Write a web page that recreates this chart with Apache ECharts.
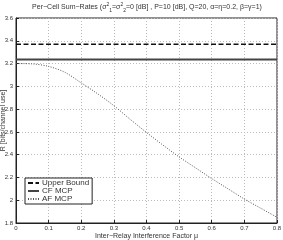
<!DOCTYPE html>
<html><head><meta charset="utf-8">
<script src="https://cdn.jsdelivr.net/npm/echarts@6/dist/echarts.min.js"></script>
<style>html,body{margin:0;padding:0;background:#fff}#c{width:283px;height:240px}</style>
</head><body><div id="c"></div>
<script>
var mu = [0, 0.05, 0.1, 0.15, 0.2, 0.25, 0.3, 0.35, 0.4, 0.45, 0.5, 0.55, 0.6, 0.65, 0.7, 0.75, 0.8];
var upperBound = [3.37, 3.37, 3.37, 3.37, 3.37, 3.37, 3.37, 3.37, 3.37, 3.37, 3.37, 3.37, 3.37, 3.37, 3.37, 3.37, 3.37];
var cfMcp = [3.235, 3.235, 3.235, 3.235, 3.235, 3.235, 3.235, 3.235, 3.235, 3.235, 3.235, 3.235, 3.235, 3.235, 3.235, 3.235, 3.235];
var afMcp = [3.20, 3.197, 3.175, 3.123, 3.03, 2.935, 2.83, 2.71, 2.595, 2.485, 2.38, 2.285, 2.19, 2.10, 2.01, 1.93, 1.85];
var seriesNames = ['Upper Bound', 'CF MCP', 'AF MCP'];
var xTicks = ['0', '0.1', '0.2', '0.3', '0.4', '0.5', '0.6', '0.7', '0.8'];
var yTicks = ['1.8', '2', '2.2', '2.4', '2.6', '2.8', '3', '3.2', '3.4', '3.6'];

function pairs(ys) { return mu.map(function (m, i) { return [m, ys[i]]; }); }
var FONT = 'Liberation Sans, Arial, sans-serif';
var TXT = '#333';
var chart = echarts.init(document.getElementById('c'), null, {renderer: 'canvas'});
chart.setOption({
  animation: false,
  backgroundColor: '#fff',
  title: {
    text: '{a|Per−Cell Sum−Rates (σ}{sup|2}{sub|1}{a|=σ}{sup|2}{sub|2}{a|=0 [dB] , P=10 [dB], Q=20, α=η=0.2, β=γ=1)}',
    left: 147, textAlign: 'center', top: 2, padding: 0,
    textStyle: {
      fontWeight: 'normal',
      rich: {
        a: {fontSize: 7, fontFamily: FONT, fontWeight: 'normal', color: TXT, lineHeight: 11, verticalAlign: 'middle'},
        sup: {fontSize: 5, fontFamily: FONT, fontWeight: 'normal', color: TXT, lineHeight: 11, verticalAlign: 'top'},
        sub: {fontSize: 5, fontFamily: FONT, fontWeight: 'normal', color: TXT, lineHeight: 11, verticalAlign: 'bottom'}
      }
    }
  },
  grid: {left: 16, right: 6, top: 18, bottom: 17, show: true, borderColor: '#222', borderWidth: 1,
    containLabel: false, outerBoundsMode: 'none'},
  xAxis: {
    type: 'value', min: 0, max: 0.8, interval: 0.1,
    name: 'Inter−Relay Interference Factor μ', nameLocation: 'middle', nameGap: 9, nameMoveOverlap: false,
    nameTextStyle: {fontSize: 7, fontFamily: FONT, color: TXT, lineHeight: 8, verticalAlign: 'top'},
    axisLine: {lineStyle: {color: '#222'}},
    axisTick: {inside: true, length: 3, lineStyle: {color: '#222'}},
    axisLabel: {fontSize: 6, fontFamily: FONT, color: TXT, margin: 2, hideOverlap: false,
      formatter: function (v) { return xTicks[Math.round(v * 10)]; }},
    splitLine: {show: true, lineStyle: {color: '#bbb', type: [1, 2], width: 1}}
  },
  yAxis: {
    type: 'value', min: 1.8, max: 3.6, interval: 0.2,
    name: 'R [bits/channel use]', nameLocation: 'middle', nameGap: 9, nameMoveOverlap: false,
    nameTextStyle: {fontSize: 7, fontFamily: FONT, color: TXT},
    axisLine: {show: true, lineStyle: {color: '#222'}},
    axisTick: {show: true, inside: true, length: 3, lineStyle: {color: '#222'}},
    axisLabel: {fontSize: 6, fontFamily: FONT, color: TXT, margin: 3, hideOverlap: false,
      formatter: function (v) { return yTicks[Math.round((v - 1.8) / 0.2)]; }},
    splitLine: {show: true, lineStyle: {color: '#bbb', type: [1, 2], width: 1}}
  },
  legend: {
    orient: 'vertical', left: 25, top: 178,
    data: seriesNames,
    backgroundColor: '#fff', borderColor: '#222', borderWidth: 1, borderRadius: 0,
    padding: [1, 3, 1, 2], itemGap: 0, itemWidth: 11, itemHeight: 9,
    itemStyle: {color: 'rgba(0,0,0,0)', borderColor: 'rgba(0,0,0,0)', borderWidth: 0},
    textStyle: {fontSize: 8, fontFamily: FONT, color: TXT, padding: [0, 0, 0, -2]}
  },
  series: [
    {name: seriesNames[0], type: 'line', data: pairs(upperBound), symbol: 'none',
      lineStyle: {color: '#111', width: 1.6, type: [5, 2.5]}, itemStyle: {color: '#111'}},
    {name: seriesNames[1], type: 'line', data: pairs(cfMcp), symbol: 'none',
      lineStyle: {color: '#444', width: 2, type: 'solid'}, itemStyle: {color: '#444'}},
    {name: seriesNames[2], type: 'line', data: pairs(afMcp), symbol: 'none', smooth: 0.3,
      lineStyle: {color: '#555', width: 1, type: [1, 1.5]}, itemStyle: {color: '#555'}}
  ]
});
</script></body></html>
